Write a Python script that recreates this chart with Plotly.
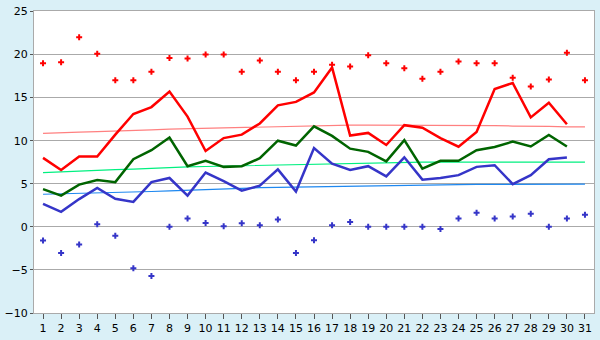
import plotly.graph_objects as go

days = list(range(1, 32))
days_avg = list(range(1, 31))

max_temp = [19.0, 19.1, 22.0, 20.1, 17.0, 17.0, 18.0, 19.6, 19.55, 20.0,
            20.0, 18.0, 19.3, 18.0, 17.0, 18.0, 18.8, 18.6, 19.9, 19.0,
            18.4, 17.2, 18.0, 19.2, 19.0, 19.0, 17.3, 16.3, 17.1, 20.2, 17.0]
min_temp = [-1.6, -3.04, -2.04, 0.3, -1.04, -4.8, -5.7, 0.0, 0.96, 0.44,
            0.07, 0.41, 0.19, 0.85, -3.04, -1.56, 0.19, 0.56, 0.0, 0.0,
            0.0, 0.0, -0.26, 0.96, 1.63, 0.96, 1.19, 1.52, 0.0, 0.96, 1.41]

max_avg = [8.0, 6.6, 8.15, 8.15, 10.7, 13.1, 13.9, 15.7, 12.8, 8.8,
           10.3, 10.7, 12.0, 14.1, 14.5, 15.6, 18.5, 10.6, 10.9, 9.5,
           11.8, 11.5, 10.3, 9.3, 11.0, 16.0, 16.7, 12.7, 14.4, 11.9]
mean_avg = [4.37, 3.63, 4.9, 5.44, 5.19, 7.85, 8.9, 10.37, 7.04, 7.67,
            6.96, 7.04, 7.96, 10.0, 9.44, 11.67, 10.55, 9.07, 8.7, 7.6,
            10.07, 6.74, 7.67, 7.67, 8.89, 9.26, 9.89, 9.33, 10.67, 9.33]
min_avg = [2.67, 1.74, 3.22, 4.52, 3.26, 2.89, 5.19, 5.67, 3.63, 6.3,
           5.3, 4.2, 4.77, 6.67, 4.1, 9.15, 7.33, 6.6, 7.04, 5.85,
           8.07, 5.48, 5.67, 6.0, 6.96, 7.15, 4.96, 6.0, 7.85, 8.04]

max_norm = [10.85, 10.95, 11.0, 11.05, 11.1, 11.2, 11.25, 11.35, 11.4, 11.45,
            11.5, 11.55, 11.6, 11.65, 11.7, 11.75, 11.8, 11.8, 11.8, 11.8,
            11.8, 11.8, 11.75, 11.75, 11.75, 11.75, 11.7, 11.7, 11.65, 11.6, 11.6]
mean_norm = [6.3, 6.4, 6.5, 6.55, 6.65, 6.7, 6.8, 6.85, 6.95, 7.0,
             7.05, 7.1, 7.15, 7.2, 7.25, 7.3, 7.35, 7.4, 7.45, 7.5,
             7.5, 7.52, 7.52, 7.52, 7.52, 7.52, 7.52, 7.52, 7.52, 7.5, 7.5]
min_norm = [3.78, 3.82, 3.86, 3.91, 3.96, 4.03, 4.1, 4.18, 4.26, 4.35,
            4.44, 4.49, 4.54, 4.59, 4.63, 4.67, 4.7, 4.74, 4.77, 4.8,
            4.85, 4.89, 4.9, 4.91, 4.92, 4.93, 4.94, 4.95, 4.95, 4.96, 4.96]

y_ticks = [-10, -5, 0, 5, 10, 15, 20, 25]

RED = "#ff0000"
GREEN = "#006400"
BLUE = "#3535c8"

fig = go.Figure()
fig.add_trace(go.Scatter(x=days, y=max_norm, mode="lines", line=dict(color="#ff8080", width=1.2)))
fig.add_trace(go.Scatter(x=days, y=mean_norm, mode="lines", line=dict(color="#00f080", width=1.2)))
fig.add_trace(go.Scatter(x=days, y=min_norm, mode="lines", line=dict(color="#1e88f0", width=1.2)))
fig.add_trace(go.Scatter(x=days_avg, y=max_avg, mode="lines", line=dict(color=RED, width=2.5)))
fig.add_trace(go.Scatter(x=days_avg, y=mean_avg, mode="lines", line=dict(color=GREEN, width=2.5)))
fig.add_trace(go.Scatter(x=days_avg, y=min_avg, mode="lines", line=dict(color=BLUE, width=2.5)))
fig.add_trace(go.Scatter(x=days, y=max_temp, mode="markers",
                         marker=dict(symbol="cross", size=5, color=RED)))
fig.add_trace(go.Scatter(x=days, y=min_temp, mode="markers",
                         marker=dict(symbol="cross", size=5, color=BLUE)))

fig.update_layout(
    width=600, height=340,
    margin=dict(l=27, r=5, t=5, b=20),
    paper_bgcolor="#daf0f7",
    plot_bgcolor="#ffffff",
    showlegend=False,
    hovermode=False,
    font=dict(family="DejaVu Sans", size=11, color="#000000"),
)
fig.update_xaxes(
    range=[0.5, 31.5], tickmode="array", tickvals=days, ticktext=[str(d) for d in days],
    showgrid=False, zeroline=False, showline=True, linecolor="#aaaaaa", linewidth=1,
    mirror=True, ticks="outside", ticklen=5, tickcolor="#555555",
)
fig.update_yaxes(
    range=[-10, 25.05], tickmode="array", tickvals=y_ticks,
    showgrid=True, gridcolor="#aaaaaa", gridwidth=1, zeroline=False,
    showline=True, linecolor="#aaaaaa", linewidth=1, mirror=True,
    ticks="outside", ticklen=3, tickcolor="#555555",
)

fig.write_html("out.html")
